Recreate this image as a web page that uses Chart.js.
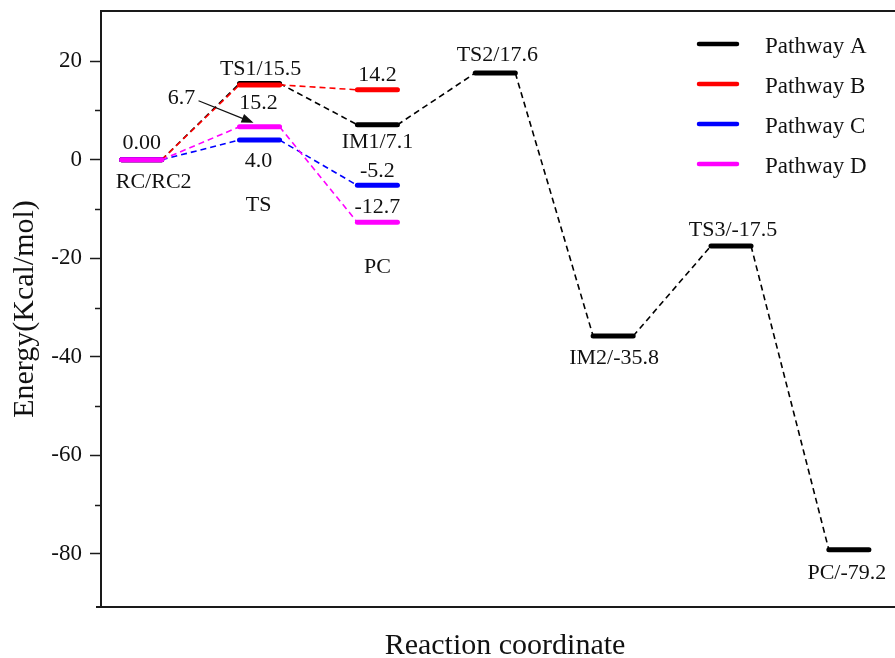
<!DOCTYPE html>
<html>
<head>
<meta charset="utf-8">
<script src="https://cdn.jsdelivr.net/npm/chart.js@4.4.0/dist/chart.umd.min.js"></script>
<style>
  body { margin: 0; background: #fff; overflow: hidden; }
</style>
</head>
<body>
<!-- el lienzo es un poco mas ancho que la ventana: la figura original esta recortada a la derecha -->
<canvas id="myChart" width="909" height="658"></canvas>
<script>
// etapas del perfil: RC, TS, PC/IM1, TS2, IM2, TS3, PC
const etapas = [0, 1, 2, 3, 4, 5, 6];
const nombresA = ["RC", "TS1", "IM1", "TS2", "IM2", "TS3", "PC"];
const pathwayA = [0, 15.5, 7.1, 17.6, -35.8, -17.5, -79.2];
const pathwayB = [0, 15.2, 14.2];
const pathwayC = [0, 4.0, -5.2];
const pathwayD = [0, 6.7, -12.7];
const yTicks = [20, 0, -20, -40, -60, -80];
const yMenores = [10, -10, -30, -50, -70];

const fuente = "'Liberation Serif', 'Times New Roman', serif";
const ANCHO = 0.17; // media anchura de cada nivel (en unidades de etapa)

const series = [
  { label: "Pathway A", valores: pathwayA, color: "#000000" },
  { label: "Pathway B", valores: pathwayB, color: "#ff0000" },
  { label: "Pathway C", valores: pathwayC, color: "#0000ff" },
  { label: "Pathway D", valores: pathwayD, color: "#ff00ff" },
];

// rotulos de valores: serie, etapa, decimales, desplazamiento
const rotulos = [
  { s: 3, i: 0, dec: 2, dx: 0, dy: -17 },
  { s: 0, i: 1, dec: 1, dx: 1, dy: -14, nombre: true },
  { s: 1, i: 1, dec: 1, dx: -1, dy: 18 },
  { s: 2, i: 1, dec: 1, dx: -1, dy: 21 },
  { s: 3, i: 1, dec: 1, dx: -78, dy: -29, flecha: true },
  { s: 1, i: 2, dec: 1, dx: 0, dy: -15 },
  { s: 0, i: 2, dec: 1, dx: 0, dy: 17, nombre: true },
  { s: 2, i: 2, dec: 1, dx: 0, dy: -14 },
  { s: 3, i: 2, dec: 1, dx: 0, dy: -15 },
  { s: 0, i: 3, dec: 1, dx: 2, dy: -18, nombre: true },
  { s: 0, i: 4, dec: 1, dx: 1, dy: 22, nombre: true },
  { s: 0, i: 5, dec: 1, dx: 2, dy: -16, nombre: true },
  { s: 0, i: 6, dec: 1, dx: -2, dy: 23, nombre: true },
];
const textos = [
  { s: 3, i: 0, texto: "RC/RC2", dx: 12, dy: 22 },
  { s: 2, i: 1, texto: "TS", dx: -1, dy: 65 },
  { s: 3, i: 2, texto: "PC", dx: 0, dy: 45 },
];

function niveles(valores) {
  const pts = [];
  valores.forEach((v, i) => {
    pts.push({ x: etapas[i] - ANCHO, y: v });
    pts.push({ x: etapas[i] + ANCHO, y: v });
  });
  return pts;
}

const anotaciones = {
  id: "anotaciones",
  afterDraw(chart) {
    const { ctx, chartArea } = chart;
    const x = chart.scales.x, y = chart.scales.y;
    ctx.save();
    // borde superior
    ctx.strokeStyle = "#1a1a1a";
    ctx.lineWidth = 2;
    ctx.beginPath();
    ctx.moveTo(chartArea.left - 1, chartArea.top);
    ctx.lineTo(chartArea.right, chartArea.top);
    ctx.stroke();
    // prolongacion del eje inferior a la izquierda
    ctx.beginPath();
    ctx.moveTo(chartArea.left - 5, chartArea.bottom);
    ctx.lineTo(chartArea.left, chartArea.bottom);
    ctx.stroke();
    // marcas menores
    ctx.lineWidth = 1.5;
    yMenores.forEach(v => {
      const py = Math.round(y.getPixelForValue(v)) + 0.5;
      ctx.beginPath();
      ctx.moveTo(chartArea.left - 6, py);
      ctx.lineTo(chartArea.left, py);
      ctx.stroke();
    });

    ctx.fillStyle = "#111";
    ctx.font = "22px " + fuente;
    ctx.textAlign = "center";
    ctx.textBaseline = "middle";
    rotulos.forEach(r => {
      const v = series[r.s].valores[r.i];
      const px = x.getPixelForValue(etapas[r.i]);
      const py = y.getPixelForValue(v);
      const txt = (r.nombre ? nombresA[r.i] + "/" : "") + v.toFixed(r.dec);
      ctx.fillText(txt, px + r.dx, py + r.dy);
      if (r.flecha) {
        const x0 = px + r.dx + 17, y0 = py + r.dy + 3;
        const x1 = px - 6, y1 = py - 4;
        const ang = Math.atan2(y1 - y0, x1 - x0);
        ctx.strokeStyle = "#111";
        ctx.lineWidth = 1.3;
        ctx.beginPath();
        ctx.moveTo(x0, y0);
        ctx.lineTo(x1 - 10 * Math.cos(ang), y1 - 10 * Math.sin(ang));
        ctx.stroke();
        ctx.beginPath();
        ctx.moveTo(x1, y1);
        ctx.lineTo(x1 - 12 * Math.cos(ang) + 4.5 * Math.sin(ang), y1 - 12 * Math.sin(ang) - 4.5 * Math.cos(ang));
        ctx.lineTo(x1 - 12 * Math.cos(ang) - 4.5 * Math.sin(ang), y1 - 12 * Math.sin(ang) + 4.5 * Math.cos(ang));
        ctx.closePath();
        ctx.fill();
      }
    });
    textos.forEach(t => {
      const px = x.getPixelForValue(etapas[t.i]);
      const py = y.getPixelForValue(series[t.s].valores[t.i]);
      ctx.fillText(t.texto, px + t.dx, py + t.dy);
    });

    // leyenda dentro del area
    ctx.font = "23px " + fuente;
    ctx.textAlign = "left";
    chart.data.datasets.forEach((ds, k) => {
      const ly = 44 + 40 * k;
      ctx.strokeStyle = ds.borderColor;
      ctx.lineWidth = 4.5;
      ctx.lineCap = "round";
      ctx.beginPath();
      ctx.moveTo(699, ly);
      ctx.lineTo(737, ly);
      ctx.stroke();
      ctx.fillStyle = "#111";
      ctx.fillText(ds.label, 765, ly + 3);
    });
    ctx.restore();
  }
};

const contexto = document.getElementById("myChart").getContext("2d");

const myChart = new Chart(contexto, {
  type: "line",
  data: {
    datasets: series.map((s, k) => ({
      label: s.label,
      data: niveles(s.valores),
      borderColor: s.color,
      borderWidth: 5,
      pointRadius: 0,
      fill: false,
      tension: 0,
      order: 4 - k,
      segment: {
        borderWidth: c => (c.p0DataIndex % 2 === 0 ? 5 : 1.6),
        borderDash: c => (c.p0DataIndex % 2 === 0 ? [] : [6, 4]),
        borderCapStyle: c => (c.p0DataIndex % 2 === 0 ? "round" : "butt"),
      },
    })),
  },
  options: {
    responsive: false,
    animation: false,
    events: [],
    layout: { padding: { top: 11, right: 0, left: 0, bottom: 0 } },
    plugins: {
      legend: { display: false },
      tooltip: { enabled: false },
    },
    scales: {
      x: {
        type: "linear",
        min: -0.345,
        max: 6.51,
        ticks: { display: false },
        grid: { display: false, drawTicks: false },
        border: { display: true, color: "#1a1a1a", width: 2 },
        title: {
          display: true,
          text: "Reaction coordinate",
          color: "#111",
          font: { family: fuente, size: 30, lineHeight: 0.8 },
          padding: 0,
        },
        afterFit: s => { s.height = 51; },
      },
      y: {
        type: "linear",
        min: -90.8,
        max: 30.2,
        afterBuildTicks: s => { s.ticks = yTicks.map(v => ({ value: v })); },
        ticks: { color: "#111", font: { family: fuente, size: 23 }, padding: 8 },
        grid: { drawOnChartArea: false, tickLength: 11, tickWidth: 1.5, tickColor: "#1a1a1a" },
        border: { color: "#1a1a1a", width: 2 },
        title: {
          display: true,
          text: "Energy(Kcal/mol)",
          color: "#111",
          font: { family: fuente, size: 30, lineHeight: 1 },
          padding: { top: 10, bottom: 0 },
        },
        afterFit: s => { s.width = 101; s.paddingTop = 0; s.paddingBottom = 0; },
      },
    },
  },
  plugins: [anotaciones],
});
</script>
</body>
</html>
